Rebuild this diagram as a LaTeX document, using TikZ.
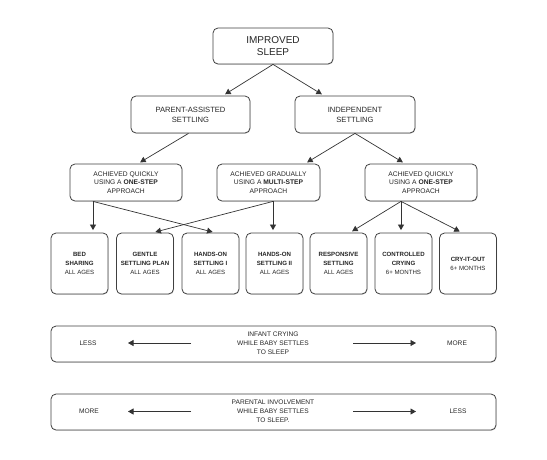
\documentclass[tikz,border=0pt]{standalone}
\usepackage{fontspec}
\setmainfont{Liberation Sans}
\usetikzlibrary{arrows.meta,shadows}
\tikzset{
  box/.style={draw=black!75, line width=0.8pt, rounded corners=5pt, fill=white,
    align=center, inner sep=0pt, text=black!85,
    drop shadow={opacity=0.25, shadow xshift=0.6pt, shadow yshift=-0.8pt}},
  topbox/.style={box, minimum width=120pt, minimum height=36pt, font=\fontsize{10}{12.3}\selectfont},
  midbox/.style={box, minimum width=119pt, minimum height=37pt, font=\fontsize{7.6}{10}\selectfont},
  stepbox/.style={box, minimum height=37pt, font=\fontsize{6.7}{8.7}\selectfont},
  methbox/.style={box, minimum width=57pt, minimum height=61pt, font=\fontsize{6.1}{9}\selectfont},
  barbox/.style={box, minimum width=445pt, minimum height=36pt},
  bartext/.style={align=center, inner sep=0pt, text=black!85, font=\fontsize{6.6}{9}\selectfont},
  conn/.style={draw=black!80, line width=0.7pt, -{Triangle[width=6pt,length=5.5pt]}, shorten >=2.5pt},
}
\begin{document}
\begin{tikzpicture}[x=1pt,y=-1pt]
\useasboundingbox (0,0) rectangle (547,459);

% level 1
\node[topbox] (top) at (273,46) {IMPROVED\\SLEEP};
% level 2
\node[midbox] (par) at (190.5,114.5) {PARENT-ASSISTED\\SETTLING};
\node[midbox, minimum width=120pt] (ind) at (355,114.5) {INDEPENDENT\\SETTLING};
% level 3
\node[stepbox, minimum width=112pt] (q1) at (126,182.5) {ACHIEVED QUICKLY\\USING A \textbf{ONE-STEP}\\APPROACH};
\node[stepbox, minimum width=103pt] (g) at (268.5,182.5) {ACHIEVED GRADUALLY\\USING A \textbf{MULTI-STEP}\\APPROACH};
\node[stepbox, minimum width=112pt] (q2) at (421,182.5) {ACHIEVED QUICKLY\\USING A \textbf{ONE-STEP}\\APPROACH};
% level 4
\node[methbox] (bed) at (79.5,263.5) {\textbf{BED}\\\textbf{SHARING}\\ALL AGES};
\node[methbox] (gen) at (145,263.5) {\textbf{GENTLE}\\\textbf{SETTLING PLAN}\\ALL AGES};
\node[methbox] (ho1) at (210.5,263.5) {\textbf{HANDS-ON}\\\textbf{SETTLING I}\\ALL AGES};
\node[methbox] (ho2) at (274.5,263.5) {\textbf{HANDS-ON}\\\textbf{SETTLING II}\\ALL AGES};
\node[methbox] (res) at (338.5,263.5) {\textbf{RESPONSIVE}\\\textbf{SETTLING}\\ALL AGES};
\node[methbox] (con) at (403.5,263.5) {\textbf{CONTROLLED}\\\textbf{CRYING}\\6+ MONTHS};
\node[methbox] (cry) at (468,263.5) {\textbf{CRY-IT-OUT}\\6+ MONTHS};

% connectors
\draw[conn] (top.south) -- ([xshift=32.5pt]par.north);
\draw[conn] (top.south) -- ([xshift=-31pt]ind.north);
\draw[conn] ([xshift=-2pt]par.south) -- ([xshift=12pt]q1.north);
\draw[conn] (ind.south) -- ([xshift=36.5pt]g.north);
\draw[conn] (ind.south) -- ([xshift=-16pt]q2.north);
\draw[conn] ([xshift=-33pt]q1.south) -- ([xshift=13.5pt]bed.north);
\draw[conn] ([xshift=-33pt]q1.south) -- ([xshift=4.5pt]ho1.north);
\draw[conn] ([xshift=4.5pt]g.south) -- ([xshift=-1.5pt]ho2.north);
\draw[conn] ([xshift=4.5pt]g.south) -- ([xshift=8pt]gen.north);
\draw[conn] ([xshift=-20pt]q2.south) -- ([xshift=11.5pt]res.north);
\draw[conn] ([xshift=-20pt]q2.south) -- ([xshift=-2.5pt]con.north);
\draw[conn] ([xshift=-20pt]q2.south) -- ([xshift=-6pt]cry.north);

% bar 1
\node[barbox] (bar1) at (273.5,344) {};
\node[bartext] (b1l) at (88,343) {LESS};
\node[bartext] (b1c) at (273,343) {INFANT CRYING\\WHILE BABY SETTLES\\TO SLEEP};
\node[bartext] (b1r) at (457,343) {MORE};
\coordinate (b1a) at (191,343);
\coordinate (b1b) at (128,343);
\coordinate (b1c1) at (353,343);
\coordinate (b1d) at (416,343);
\draw[conn, shorten >=0pt] (b1a) -- (b1b);
\draw[conn, shorten >=0pt] (b1c1) -- (b1d);

% bar 2
\node[barbox] (bar2) at (273.5,412) {};
\node[bartext] (b2l) at (89,411.5) {MORE};
\node[bartext] (b2c) at (273,411) {PARENTAL INVOLVEMENT\\WHILE BABY SETTLES\\TO SLEEP.};
\node[bartext] (b2r) at (458,411.5) {LESS};
\coordinate (b2a) at (191,411.5);
\coordinate (b2b) at (128,411.5);
\coordinate (b2c1) at (353,411.5);
\coordinate (b2d) at (416,411.5);
\draw[conn, shorten >=0pt] (b2a) -- (b2b);
\draw[conn, shorten >=0pt] (b2c1) -- (b2d);
\end{tikzpicture}
\end{document}
